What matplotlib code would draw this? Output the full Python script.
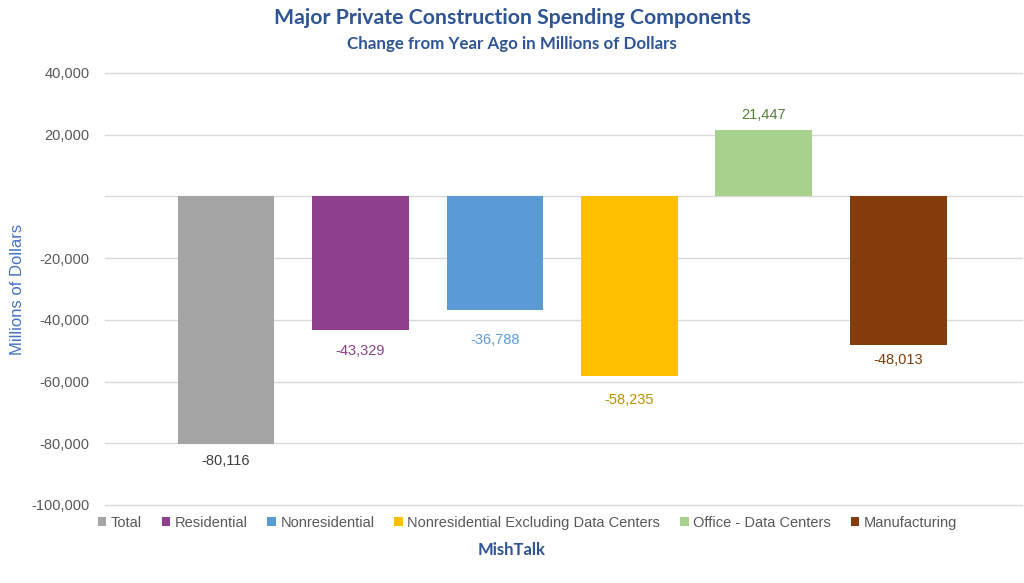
import matplotlib.pyplot as plt
from matplotlib.ticker import FuncFormatter

categories = ["Total", "Residential", "Nonresidential",
              "Nonresidential Excluding Data Centers",
              "Office - Data Centers", "Manufacturing"]
values = [-80116, -43329, -36788, -58235, 21447, -48013]
bar_colors = ["#A5A5A5", "#8E3F8E", "#5B9BD5", "#FFC000", "#A9D18E", "#843C0C"]
label_colors = ["#404040", "#8E3F8E", "#5B9BD5", "#BF9000", "#548235", "#843C0C"]
# gap (px) between bar end and label centre, as placed in the original chart
label_gaps = [17, 21, 30, 24, 15, 15]
yticks = [-100000, -80000, -60000, -40000, -20000, 0, 20000, 40000]

title_blue = "#2F5597"
plt.rcParams["font.family"] = ["Liberation Sans", "DejaVu Sans"]

fig = plt.figure(figsize=(10.24, 5.83), dpi=100)
ax = fig.add_axes([105 / 1024, 1 - 505 / 583, 917 / 1024, 432 / 583])

xs = list(range(len(values)))
bars = ax.bar(xs, values, width=0.72, color=bar_colors, zorder=3)

for x, v, c, g in zip(xs, values, label_colors, label_gaps):
    off = g * 0.72 if v > 0 else -g * 0.72
    ax.annotate(f"{v:,}", (x, v), xytext=(0, off), textcoords="offset points",
                ha="center", va="center", fontsize=10.5, color=c)

ax.set_xlim(-0.9, 5.92)
ax.set_ylim(-100000, 40000)
ax.set_yticks(yticks)
ax.yaxis.set_major_formatter(FuncFormatter(lambda v, p: "" if v == 0 else f"{int(v):,}"))
ax.tick_params(axis="y", length=0, labelsize=10.5, labelcolor="#595959", pad=11)
ax.set_xticks([])
ax.grid(axis="y", color="#D9D9D9", linewidth=1, zorder=0)
# keep the edge gridlines (top and bottom) visible
for gl in ax.get_ygridlines():
    gl.set_clip_on(False)
for s in ax.spines.values():
    s.set_visible(False)

ax.set_ylabel("Millions of Dollars", color="#4472C4", fontsize=12)
ax.yaxis.set_label_coords(-0.087, 0.5)

fig.text(0.5, 1 - 18 / 583, "Major Private Construction Spending Components",
         ha="center", va="center", fontsize=15.3, fontweight="bold",
         color=title_blue, family=["Lato", "DejaVu Sans"])
fig.text(0.5, 1 - 44 / 583, "Change from Year Ago in Millions of Dollars",
         ha="center", va="center", fontsize=12.2, fontweight="bold",
         color=title_blue, family=["Lato", "DejaVu Sans"])

leg = fig.legend(bars, categories, loc="center", bbox_to_anchor=(0.515, 1 - 523 / 583),
                 ncol=6, frameon=False, fontsize=10.5, handlelength=0.6,
                 handleheight=0.6, handletextpad=0.3, columnspacing=1.35)
for t in leg.get_texts():
    t.set_color("#595959")

fig.text(0.5, 1 - 550 / 583, "MishTalk", ha="center", va="center",
         fontsize=12, fontweight="bold", color=title_blue,
         family=["Lato", "DejaVu Sans"])

fig.savefig("out.png", dpi=100)
